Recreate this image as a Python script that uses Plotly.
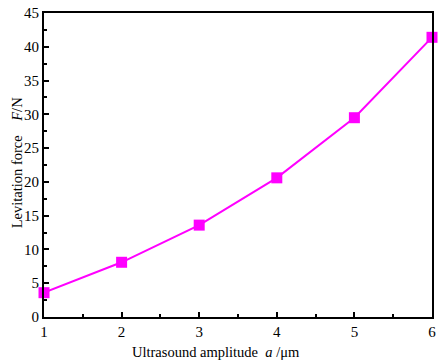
import plotly.graph_objects as go

amplitude = [1, 2, 3, 4, 5, 6]
force = [3.6, 8.1, 13.6, 20.6, 29.5, 41.4]
x_ticks = [1, 2, 3, 4, 5, 6]
y_ticks = [0, 5, 10, 15, 20, 25, 30, 35, 40, 45]

fig = go.Figure()
fig.add_trace(go.Scatter(
    x=amplitude, y=force, mode="lines+markers",
    line=dict(color="#FF00FF", width=2),
    marker=dict(symbol="square", size=11, color="#FF00FF"),
    cliponaxis=False, showlegend=False,
))

font = dict(family="Liberation Serif, Times New Roman, serif", size=15, color="black")
title_font = dict(family="Liberation Serif, Times New Roman, serif", size=14.5, color="black")
nb = "\u00a0"
fig.update_layout(
    width=441, height=364,
    margin=dict(l=44, r=5, t=11, b=47),
    paper_bgcolor="white", plot_bgcolor="white",
    font=font,
    xaxis=dict(
        range=[1, 6], tickvals=x_ticks, ticks="inside", ticklen=5, tickwidth=1.5,
        tickcolor="black", showline=True, linecolor="black", linewidth=2,
        mirror=True, showgrid=False, zeroline=False,
        minor=dict(ticks="inside", ticklen=3, tickwidth=1.5, tickcolor="black", dtick=0.5),
    ),
    yaxis=dict(
        range=[0, 45], tickvals=y_ticks, ticks="inside", ticklen=5, tickwidth=1.5,
        tickcolor="black", showline=True, linecolor="black", linewidth=2,
        mirror=True, showgrid=False, zeroline=False,
        minor=dict(ticks="inside", ticklen=3, tickwidth=1.5, tickcolor="black", dtick=2.5),
    ),
    annotations=[
        dict(text="Ultrasound amplitude" + nb * 2 + "<i>a</i> /μm", xref="paper", yref="paper",
             x=0.444, y=-0.114, xanchor="center", yanchor="middle", showarrow=False, font=title_font),
        dict(text="Levitation force" + nb * 4 + "<i>F</i>/N", xref="paper", yref="paper",
             x=-0.069, y=0.5065, xanchor="center", yanchor="middle", textangle=-90,
             showarrow=False, font=title_font),
    ],
)
fig.write_html("out.html")
